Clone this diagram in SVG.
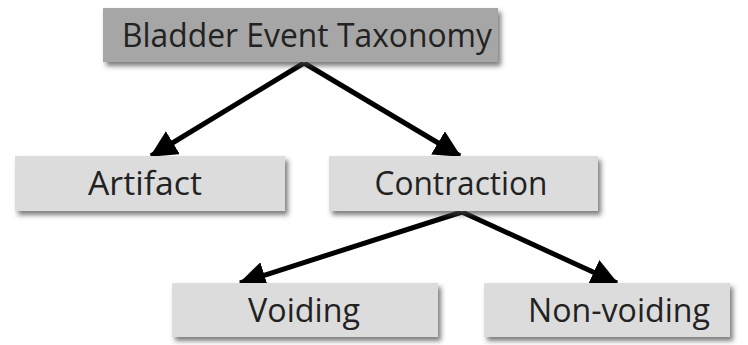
<svg xmlns="http://www.w3.org/2000/svg" width="748" height="345" viewBox="0 0 748 345">
<defs>
<filter id="sh" x="-10%" y="-20%" width="125%" height="160%">
<feDropShadow dx="3" dy="4" stdDeviation="2.5" flood-color="#444" flood-opacity="0.7"/>
</filter>
<marker id="ah" viewBox="0 0 10 10" refX="9.5" refY="5" markerWidth="5.4" markerHeight="5.4" markerUnits="strokeWidth" orient="auto">
<path d="M0,0 L10,5 L0,10 Z" fill="#000"/>
</marker>
<style>
.box{fill:#dcdcdc;filter:url(#sh)}
.top{fill:#a6a6a6;filter:url(#sh)}
text{font-family:"Open Sans","Noto Sans",sans-serif;font-size:33px;fill:#222;text-anchor:middle}
.c{stroke:#000;stroke-width:5;fill:none;marker-end:url(#ah)}
</style>
</defs>
<g id="connectors">
<line class="c" x1="304" y1="63" x2="151" y2="156"/>
<line class="c" x1="304" y1="63" x2="460" y2="156"/>
<line class="c" x1="462" y1="212" x2="240" y2="283"/>
<line class="c" x1="462" y1="212" x2="617" y2="283"/>
</g>
<g id="n-root">
<rect class="top" x="103" y="8" width="395" height="54"/>
<text x="307" y="47" textLength="370" lengthAdjust="spacingAndGlyphs">Bladder Event Taxonomy</text>
</g>
<g id="n-artifact">
<rect class="box" x="15" y="156" width="270" height="55"/>
<text x="145" y="195" textLength="114" lengthAdjust="spacingAndGlyphs">Artifact</text>
</g>
<g id="n-contraction">
<rect class="box" x="329" y="156" width="269" height="55"/>
<text x="461" y="195" textLength="173" lengthAdjust="spacingAndGlyphs">Contraction</text>
</g>
<g id="n-voiding">
<rect class="box" x="172" y="283" width="266" height="54"/>
<text x="304" y="322" textLength="112" lengthAdjust="spacingAndGlyphs">Voiding</text>
</g>
<g id="n-nonvoiding">
<rect class="box" x="484" y="283" width="246" height="54"/>
<text x="619" y="322" textLength="182" lengthAdjust="spacingAndGlyphs">Non-voiding</text>
</g>
</svg>
